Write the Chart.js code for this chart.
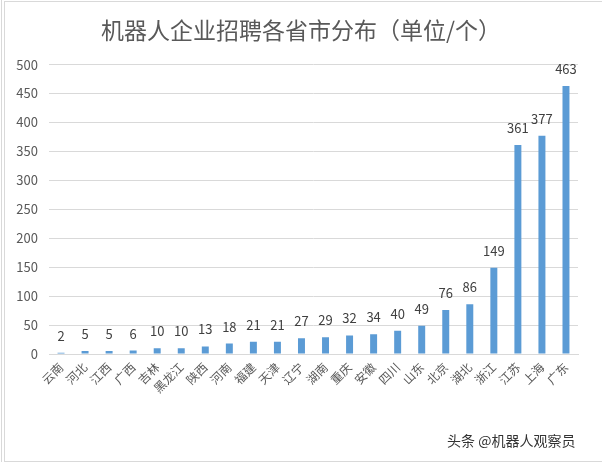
<!DOCTYPE html>
<html>
<head>
<meta charset="utf-8">
<script src="https://cdn.jsdelivr.net/npm/chart.js@4.4.1/dist/chart.umd.min.js"></script>
<style>
  html, body { margin: 0; padding: 0; background: #fff; }
  .wrap { position: relative; width: 602px; height: 462px; }
  .frame { position: absolute; left: 4px; top: 1px; right: -2px; bottom: 0; border-top: 1px solid #d9d9d9; border-bottom: 1px solid #d9d9d9; border-left: 1px solid #d9d9d9; }
  .edge { position: absolute; left: 1px; top: 0; width: 0; height: 462px; border-left: 1px solid #d9d9d9; }
  canvas { position: absolute; left: 0; top: 0; }
  .mark { position: absolute; left: 447px; top: 430px; font: 14px "Noto Sans CJK SC", sans-serif; color: #333; }
</style>
</head>
<body>
<div class="wrap">
  <div class="edge"></div>
  <div class="frame"></div>
  <canvas id="chart" width="602" height="462"></canvas>
  <div class="mark">头条 @机器人观察员</div>
</div>
<script>
const provinces = ['云南', '河北', '江西', '广西', '吉林', '黑龙江', '陕西', '河南', '福建', '天津', '辽宁',
  '湖南', '重庆', '安徽', '四川', '山东', '北京', '湖北', '浙江', '江苏', '上海', '广东'];
const counts = [2, 5, 5, 6, 10, 10, 13, 18, 21, 21, 27, 29, 32, 34, 40, 49, 76, 86, 149, 361, 377, 463];

const FONT = '"Noto Sans CJK SC", "Noto Sans", sans-serif';

// value labels above each bar
const valueLabels = {
  id: 'valueLabels',
  afterLayout(chart) {
    // nudge the title a bit to the right, like the original
    if (chart.titleBlock) chart.titleBlock.left += 24;
  },
  afterDatasetsDraw(chart) {
    const ctx = chart.ctx;
    const meta = chart.getDatasetMeta(0);
    ctx.save();
    ctx.font = '13px ' + FONT;
    ctx.fillStyle = '#404040';
    ctx.textAlign = 'center';
    ctx.textBaseline = 'alphabetic';
    meta.data.forEach((bar, i) => {
      ctx.fillText(counts[i], bar.x, bar.y - 12);
    });
    ctx.restore();
  }
};

new Chart(document.getElementById('chart'), {
  type: 'bar',
  data: {
    labels: provinces,
    datasets: [{
      data: counts,
      backgroundColor: '#5b9bd5',
      barPercentage: 0.29,
      categoryPercentage: 1
    }]
  },
  options: {
    responsive: false,
    animation: false,
    layout: { padding: { left: 0, right: 24, top: 0, bottom: 0 } },
    plugins: {
      legend: { display: false },
      tooltip: { enabled: false },
      title: {
        display: true,
        text: '机器人企业招聘各省市分布（单位/个）',
        color: '#595959',
        font: { family: FONT, size: 23, weight: 'normal' },
        padding: { top: 16, bottom: 21 }
      }
    },
    scales: {
      y: {
        min: 0,
        max: 500,
        ticks: {
          stepSize: 50,
          color: '#595959',
          font: { family: FONT, size: 13 },
          padding: 11
        },
        grid: { color: '#d9d9d9', drawTicks: false },
        border: { display: false },
        afterFit(scale) { scale.width = 49; }
      },
      x: {
        ticks: {
          color: '#595959',
          font: { family: FONT, size: 12 },
          minRotation: 45,
          maxRotation: 45,
          padding: 6,
          autoSkip: false
        },
        grid: { display: false, drawTicks: false },
        border: { color: '#d9d9d9' },
        afterFit(scale) { scale.height = 108; }
      }
    }
  },
  plugins: [valueLabels]
});
</script>
</body>
</html>
